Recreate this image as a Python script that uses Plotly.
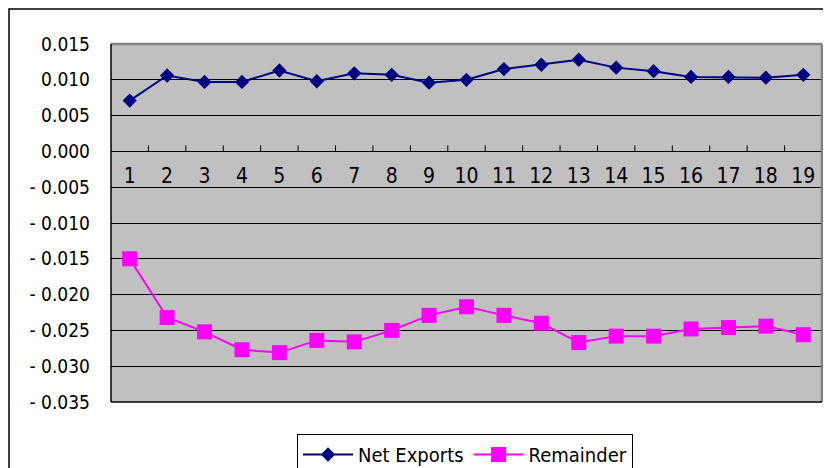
import plotly.graph_objects as go

categories = [str(i) for i in range(1, 20)]
net_exports = [0.0071, 0.0106, 0.0097, 0.0097, 0.0113, 0.0098, 0.0109, 0.0107, 0.0096, 0.0100,
               0.0115, 0.0121, 0.0128, 0.0117, 0.0112, 0.0104, 0.0104, 0.0103, 0.0107]
remainder = [-0.0150, -0.0232, -0.0252, -0.0277, -0.0281, -0.0264, -0.0266, -0.0250, -0.0229, -0.0217,
             -0.0229, -0.0240, -0.0267, -0.0258, -0.0258, -0.0248, -0.0246, -0.0244, -0.0256]
y_tickvals = [0.015, 0.010, 0.005, 0.0, -0.005, -0.010, -0.015, -0.020, -0.025, -0.030, -0.035]
y_ticktext = ["0.015", "0.010", "0.005", "0.000", "- 0.005", "- 0.010", "- 0.015", "- 0.020",
              "- 0.025", "- 0.030", "- 0.035"]

FONT = "DejaVu Sans Condensed, Liberation Sans Narrow, sans-serif"

# category positions on a linear axis, and the boundaries between categories
pos = list(range(len(categories)))
boundaries = [p + 0.5 for p in pos[:-1]]
xrange = [-0.5, len(categories) - 0.5]

fig = go.Figure()
fig.add_trace(go.Scatter(
    x=pos, y=net_exports, name="Net Exports", mode="lines+markers",
    line=dict(color="#000080", width=2),
    marker=dict(symbol="diamond", size=11, color="#000080"),
))
fig.add_trace(go.Scatter(
    x=pos, y=remainder, name="Remainder", mode="lines+markers",
    line=dict(color="#FF00FF", width=2),
    marker=dict(symbol="square", size=15, color="#FF00FF"),
))

ymin, ymax = -0.035, 0.015
zero_pos = (0 - ymin) / (ymax - ymin)

# page body adds an 8px offset; plot area target (picture px): left 111, top 44, right 822, bottom 402
L, T, PW, PH = 103, 36, 711, 358
W, H = 831, 468

# small upward tick marks on the zero line at category boundaries (pixel-sized)
tick_shapes = [
    dict(type="line", xref="x", yref="y", x0=b, x1=b,
         ysizemode="pixel", yanchor=0, y0=0, y1=6,
         line=dict(color="black", width=1), layer="above")
    for b in boundaries
]

fig.update_layout(
    width=W, height=H,
    margin=dict(l=L, r=W - L - PW, t=T, b=H - T - PH, autoexpand=False),
    paper_bgcolor="white",
    plot_bgcolor="#C0C0C0",
    font=dict(family=FONT, size=19, color="black"),
    showlegend=True,
    legend=dict(
        orientation="h", x=(297 - 111) / PW, y=(402 - 434) / PH,
        xanchor="left", yanchor="top",
        bgcolor="white", bordercolor="black", borderwidth=1,
        font=dict(family=FONT, size=20, color="black"),
        itemwidth=50,
    ),
    xaxis=dict(
        type="linear", range=xrange,
        tickvals=pos, ticktext=categories,
        anchor="free", position=zero_pos,
        showline=True, linecolor="black", linewidth=1,
        ticks="", showgrid=False, zeroline=False,
        ticklabelstandoff=5,
        tickfont=dict(family=FONT, size=21, color="black"),
    ),
    yaxis=dict(
        range=[ymin, ymax], domain=[0, 1],
        tickvals=y_tickvals, ticktext=y_ticktext,
        showgrid=True, gridcolor="black", gridwidth=1,
        zeroline=False, showline=False,
        ticks="", ticklabelstandoff=20,
        tickfont=dict(family=FONT, size=19, color="black"),
    ),
    shapes=[
        # outer chart frame
        dict(type="rect", xref="paper", yref="paper",
             x0=(9 - 111) / PW, x1=(845 - 111) / PW,
             y0=(402 - 490) / PH, y1=(402 - 9) / PH,
             line=dict(color="black", width=1.5), fillcolor="rgba(0,0,0,0)", layer="below"),
        # plot area top/right gray border
        dict(type="line", xref="x domain", yref="y domain", x0=0, x1=1, y0=1, y1=1,
             line=dict(color="#808080", width=2.5)),
        dict(type="line", xref="x domain", yref="y domain", x0=1, x1=1, y0=0, y1=1,
             line=dict(color="#808080", width=2.5)),
        # plot area left/bottom black border
        dict(type="line", xref="x domain", yref="y domain", x0=0, x1=0, y0=0, y1=1,
             line=dict(color="black", width=1.5)),
        dict(type="line", xref="x domain", yref="y domain", x0=0, x1=1, y0=0, y1=0,
             line=dict(color="black", width=1.5)),
    ] + tick_shapes,
)

fig.write_html("out.html")
